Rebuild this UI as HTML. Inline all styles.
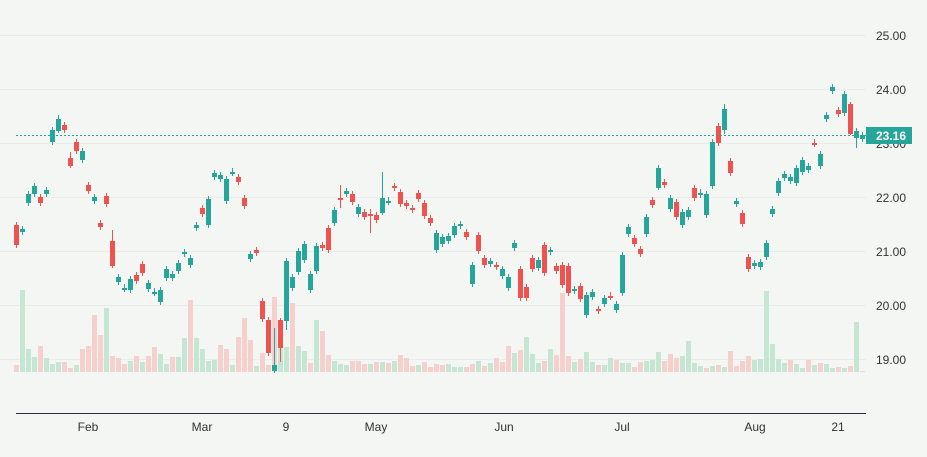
<!DOCTYPE html>
<html><head><meta charset="utf-8"><style>
html,body{margin:0;padding:0;background:#f3f6f3;}
svg{display:block;font-family:"Liberation Sans",sans-serif;}
</style></head><body>
<svg id="c" width="927" height="457" viewBox="0 0 927 457" xmlns="http://www.w3.org/2000/svg">
<rect width="927" height="457" fill="#f3f6f3"/>
<g stroke="#e9ecea" stroke-width="1">
<line x1="0" y1="35.5" x2="866" y2="35.5"/><line x1="0" y1="89.5" x2="866" y2="89.5"/>
<line x1="0" y1="143.5" x2="866" y2="143.5"/><line x1="0" y1="197.5" x2="866" y2="197.5"/>
<line x1="0" y1="251.5" x2="866" y2="251.5"/><line x1="0" y1="305.5" x2="866" y2="305.5"/>
<line x1="0" y1="359.5" x2="866" y2="359.5"/>
</g>
<g id="vol"></g>
<g id="cand"></g>
<line x1="16" y1="135.5" x2="866" y2="135.5" stroke="#26a69a" stroke-width="1" stroke-dasharray="2,2"/>
<line x1="16" y1="413.5" x2="866" y2="413.5" stroke="#2a2e4a" stroke-width="1"/>
<g fill="#333" font-size="12" text-anchor="end">
<text x="906" y="40">25.00</text><text x="906" y="94">24.00</text>
<text x="906" y="202">22.00</text><text x="906" y="256">21.00</text>
<text x="906" y="310">20.00</text><text x="906" y="364">19.00</text>
<text x="906" y="148">23.00</text>
</g>
<rect x="866" y="127" width="46" height="17" fill="#26a69a"/>
<text x="906" y="140" fill="#fff" font-size="12" font-weight="bold" text-anchor="end">23.16</text>
<g fill="#333" font-size="12" text-anchor="middle">
<text x="88" y="431">Feb</text><text x="202" y="431">Mar</text><text x="286" y="431">9</text>
<text x="376" y="431">May</text><text x="504" y="431">Jun</text><text x="622" y="431">Jul</text>
<text x="755" y="431">Aug</text><text x="838" y="431">21</text>
</g>
</svg>
<script>
var C="225 245 r,229 232 g,194 203 g,186 194 g,197 203 r,190 194 g,130 142 g,119 131 g,125 130 r,158 166 r,142 151 r,151 160 g,185 191 r,197 201 g,223 227 r,196 204 r,241 266 r,277 282 g,288 288 g,279 290 g,275 281 r,264 273 r,283 289 g,292 292 g,290 302 g,269 278 g,274 278 g,263 271 g,252 254 g,258 265 g,225 228 g,208 214 r,199 225 g,173 177 g,175 179 g,179 201 g,172 172 g,177 182 r,198 206 r,254 259 g,250 253 r,301 319 r,320 353 r,365 371 g,320 348 r,261 321 g,277 288 g,251 272 g,244 260 g,274 290 g,246 271 g,245 248 r,228 250 r,210 223 g,198 200 r,191 194 g,194 202 r,207 214 g,212 217 r,214 216 r,215 220 r,198 213 g,201 201 g,186 188 r,192 204 r,203 206 r,208 210 r,193 199 r,203 216 r,218 223 r,233 250 g,237 244 g,236 241 g,226 235 g,224 226 g,232 237 r,265 284 g,235 251 r,258 265 r,261 264 g,265 267 r,269 276 g,277 288 g,243 248 g,269 298 r,287 298 r,258 269 r,260 268 g,245 273 r,250 252 g,266 271 r,265 285 r,266 293 r,289 291 g,286 299 r,295 315 g,292 297 g,309 311 r,298 304 g,296 296 r,304 310 g,255 293 g,227 234 g,238 244 r,249 254 r,217 234 g,200 205 r,168 188 g,182 185 r,198 209 g,202 217 r,212 225 g,210 217 g,188 198 r,193 194 g,194 215 g,142 186 g,126 143 r,109 130 g,161 173 r,201 204 g,213 224 r,257 269 r,263 266 g,262 267 g,243 257 g,209 214 g,181 193 g,174 178 g,177 181 g,168 183 g,160 172 g,166 170 g,143 143 r,154 166 g,115 119 g,87 91 g,110 114 r,94 113 g,104 134 r,131 138 g,135 139 g".split(",");
var W={43:[328,373],44:[318,362],61:[172,215],54:[185,208],59:[209,233],16:[230,268],45:[258,330],118:[104,134],107:[165,190],139:[102,135],140:[128,148],9:[152,168],7:[115,133]};
var z1="795p 570g 747g 771g 738p 774g 792g 786g 786p 804p 795g 747p 738p 645p 705p 624g 768p 774p 792p 783g 768p 786g 768p 741p 762g 792g 771p 771g 714g 600p 714g 747g 783g 780g 735p 747p 795g 711p 654p 720p 798g 759p 795p 591p 741g 741g 609p 738g 753g 789p 660g".split(" ");
var V=[];z1.forEach(function(s){V.push([100+parseInt(s)/3,s.slice(-1)]);});
var z3="331p 355p 361g 364g 365g 361p 361p 364p 364g 362p 362g 363p 361g 355p 358p 366p 365g 362p 367p 364p 365p 364g 367g 367g 367p 364p 361g 366p 363g 358p 362p 346p 353g 350p 337g 354g 363g 361p 349g 355p 293p 356p 362g 359p 352g 362g 365p 365g 358g".split(" ");
z3.forEach(function(s){V.push([parseInt(s),s.slice(-1)]);});
var z4="362g 365p 365g 358g 360p 363g 363g 367p 362p 361g 360g 352g 361p 354p 358p 356g 341g 363g 366g 368p 366g 365p 367g 351p 366p 361p 356p 360g 359g 291g 344g 359g 363g 360p 364g 368g 360p 365g 363p 364g 368g 367p 368g 366p 322g 371p".split(" ");
V=V.slice(0,96);z4.forEach(function(s){V.push([parseInt(s),s.slice(-1)]);});
var ns="http://www.w3.org/2000/svg";
function el(p,t,a){var e=document.createElementNS(ns,t);for(var k in a)e.setAttribute(k,a[k]);p.appendChild(e);}
var vg=document.getElementById("vol"),cg=document.getElementById("cand");
V.forEach(function(v,k){var x=14+6*k;var top=Math.min(v[0],371);el(vg,"rect",{x:x,y:top,width:5,height:372-top,fill:v[1]=="g"?"#c6e6d4":"#f5d0cd"});});
C.forEach(function(s,k){var p=s.split(" ");var t=+p[0],b=+p[1],col=p[2]=="g"?"#26a69a":"#ef5350";var x=14+6*k;
var w=W[k]||(b-t<2?[t-4,b+4]:[t-3,b+3]);
el(cg,"rect",{x:x+2,y:w[0],width:1,height:w[1]-w[0],fill:col});
el(cg,"rect",{x:x,y:t,width:5,height:Math.max(b-t,2),fill:col});});
</script>
</body></html>
